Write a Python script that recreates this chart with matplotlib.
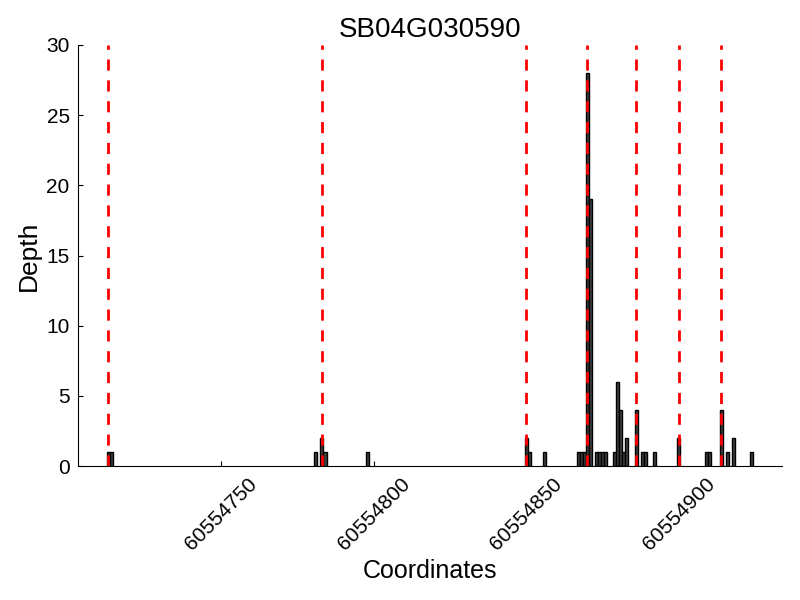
import matplotlib
matplotlib.use("Agg")
import matplotlib.pyplot as plt

plt.rcParams["font.family"] = ["Liberation Sans", "DejaVu Sans"]

# coverage depth per position (offset from 60554700)
base = 60554700
offsets = [13, 14, 81, 83, 84, 98, 150, 151, 156, 167, 168, 169, 170, 171,
           173, 174, 175, 176, 179, 180, 181, 182, 183, 186, 188, 189, 192,
           200, 209, 210, 214, 216, 218, 224]
depths = [1, 1, 1, 2, 1, 1, 2, 1, 1, 1, 1, 1, 28, 19,
          1, 1, 1, 1, 1, 6, 4, 1, 2, 4, 1, 1, 1,
          2, 1, 1, 4, 1, 2, 1]
# exon boundaries
boundary_offsets = [13, 83, 150, 170, 186, 200, 214]

positions = [base + o for o in offsets]
boundaries = [base + o for o in boundary_offsets]

fig = plt.figure(figsize=(8, 6), dpi=100)
fig.subplots_adjust(left=0.0975, right=0.978, bottom=0.2233, top=0.925)
ax = fig.gca()

ax.bar(positions, depths, width=1, color="#404040", edgecolor="black", linewidth=1)
for b in boundaries:
    ax.axvline(b, color="red", linestyle="--", linewidth=2, dashes=(4, 3.5))

ax.set_xlim(base + 3, base + 234)
ax.set_ylim(0, 30)
ax.set_xticks([60554750, 60554800, 60554850, 60554900])
ax.set_xticklabels(["60554750", "60554800", "60554850", "60554900"], rotation=45)
ax.tick_params(direction="in", labelsize=15, pad=6, top=False, right=False)
ax.spines["top"].set_visible(False)
ax.spines["right"].set_visible(False)

ax.set_title("SB04G030590", fontsize=20)
ax.set_xlabel("Coordinates", fontsize=18)
ax.set_ylabel("Depth", fontsize=19)

fig.savefig("out.png", dpi=100)
